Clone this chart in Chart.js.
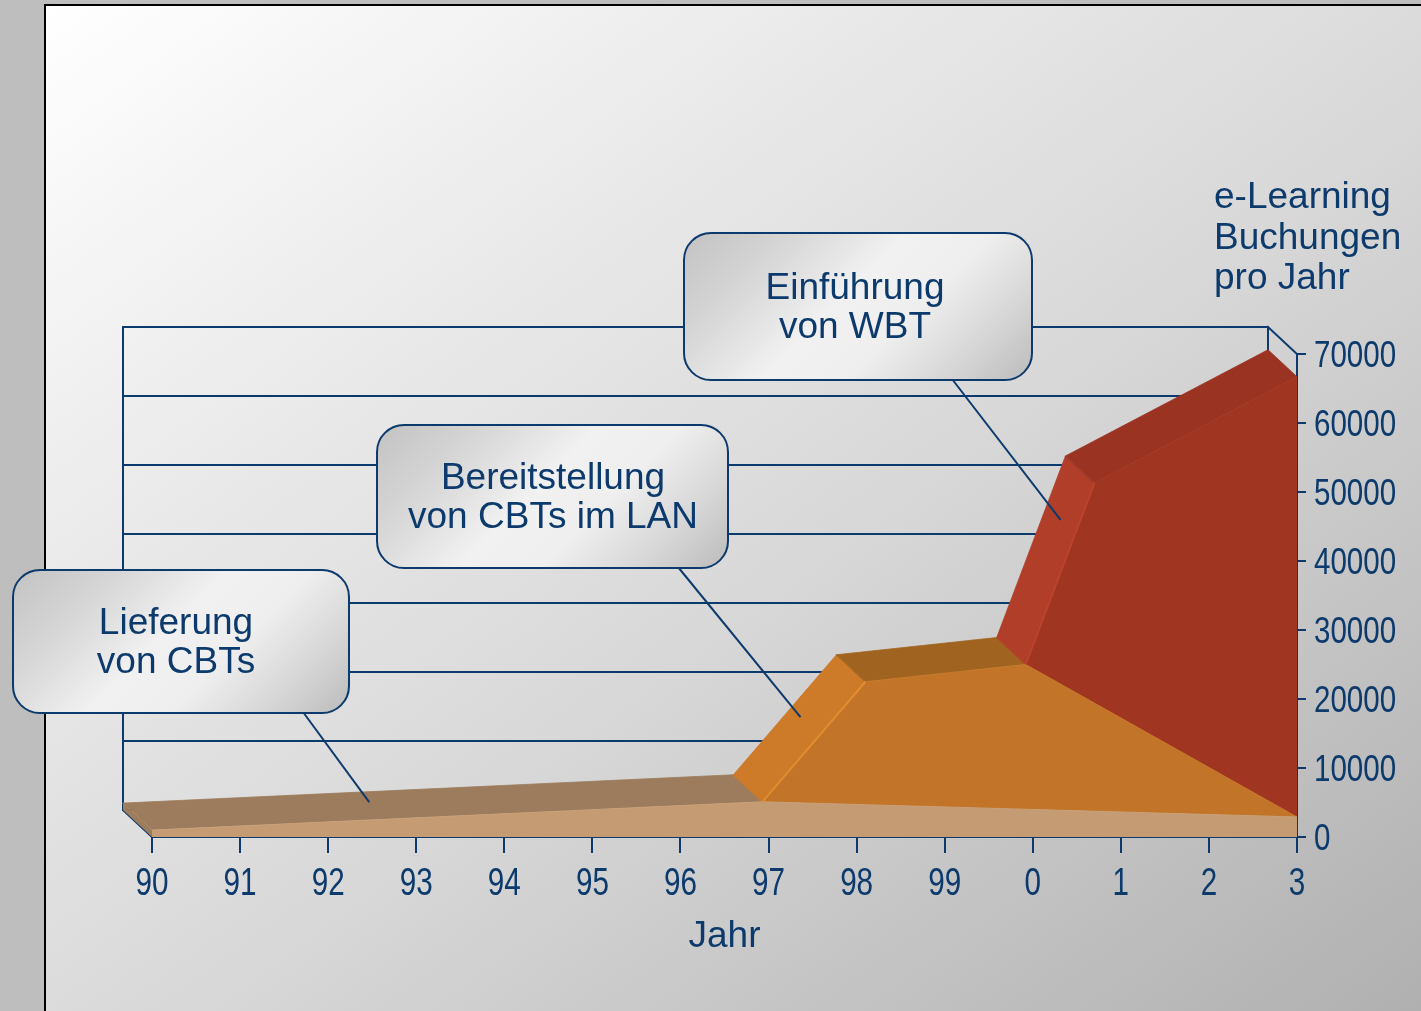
<!DOCTYPE html>
<html><head><meta charset="utf-8">
<script src="https://cdn.jsdelivr.net/npm/chart.js@4/dist/chart.umd.min.js"></script>
<style>
html,body{margin:0;padding:0;width:1421px;height:1011px;overflow:hidden;background:#bebebe;}
#panel{position:absolute;left:44px;top:4px;width:1377px;height:1007px;box-sizing:border-box;border-left:2px solid #000;border-top:2px solid #000;
 background:linear-gradient(to bottom right,#ffffff 0%,#e9e9e9 30%,#d8d8d8 55%,#b0b0b0 100%);}
#c{position:absolute;left:0;top:0;}
</style></head><body>
<div id="panel"></div>
<canvas id="c" width="1421" height="1011"></canvas>
<script>
// ---- data ----
const years = ['90','91','92','93','94','95','96','97','98','99','0','1','2','3'];
const yTicks = [0,10000,20000,30000,40000,50000,60000,70000];
// top edges of the three stacked areas (x = position on the year axis, 0 = '90')
const cbtPos = [0, 6.93, 13];
const cbtTop = [1000, 5100, 2900];
const lanPos = [6.93, 8.1, 9.92, 13];
const lanTop = [5100, 22500, 25000, 2900];
const wbtPos = [9.92, 10.7, 13];
const wbtTop = [25000, 51300, 66700];
const yTitle = ['e-Learning','Buchungen','pro Jahr'];
const xTitle = 'Jahr';
const calloutTexts = [['Lieferung','von CBTs'],['Bereitstellung','von CBTs im LAN'],['Einführung','von WBT']];
// anchor of each leader line in data space (x position, value, depth fraction)
const calloutAnchors = [[2.67,2640,0.62],[7.58,14800,0.66],[10.48,44000,0.5]];

// ---- styles / layout ----
const NAVY = '#0d3a6c';
const SANS = "'Liberation Sans', Arial, sans-serif";
const DEPTH = {dx:-29, dy:-27};
const styles = [
  {front:'#c49b73', top:'#9c7c5d', side:'#9c7c5d', edge:'#c9a079', hi:null},
  {front:'#c27528', top:'#a16420', side:'#cd7a29', edge:'#c77a2c', hi:'#e28c30'},
  {front:'#a03522', top:'#9a3322', side:'#b13e28', edge:'#a53a25', hi:'#b9442b'}
];
const boxes = [ // x, y, w, h, text centre x, leader start x
  {x:13,y:570,w:336,h:143,tx:176,lx:303},
  {x:377,y:425,w:351,h:143,tx:553,lx:678},
  {x:684,y:233,w:348,h:147,tx:855,lx:952}
];

const seriesPos = [cbtPos, lanPos, wbtPos];
const seriesTop = [cbtTop, lanTop, wbtTop];

function pts(pos, vals){ return pos.map((p,i)=>({x:p, y:vals[i]})); }

const threeD = {
  id:'threeD',
  beforeDatasetsDraw(chart){
    const {ctx, chartArea:a, scales:{x, y}} = chart;
    const dx = DEPTH.dx, dy = DEPTH.dy;
    ctx.save();
    ctx.strokeStyle = NAVY; ctx.lineWidth = 2; ctx.lineCap = 'square';
    ctx.beginPath();
    yTicks.forEach(v=>{ const py = y.getPixelForValue(v)+dy; ctx.moveTo(a.left+dx, py); ctx.lineTo(a.right+dx, py); });
    ctx.moveTo(a.left+dx, a.top+dy); ctx.lineTo(a.left+dx, a.bottom+dy); ctx.lineTo(a.left, a.bottom);
    ctx.moveTo(a.right+dx, a.top+dy); ctx.lineTo(a.right+dx, a.bottom+dy);
    ctx.moveTo(a.right+dx, a.top+dy); ctx.lineTo(a.right, a.top);
    ctx.stroke();
    // depth strips of the areas
    seriesPos.forEach((pos, s)=>{
      const vals = seriesTop[s];
      for(let i=0;i<pos.length-1;i++){
        const x1=x.getPixelForValue(pos[i]), y1=y.getPixelForValue(vals[i]);
        const x2=x.getPixelForValue(pos[i+1]), y2=y.getPixelForValue(vals[i+1]);
        const slope = (y1-y2)/(x2-x1);
        ctx.fillStyle = slope>0.9 ? styles[s].side : styles[s].top;
        ctx.beginPath();
        ctx.moveTo(x1,y1); ctx.lineTo(x2,y2); ctx.lineTo(x2+dx,y2+dy); ctx.lineTo(x1+dx,y1+dy); ctx.closePath();
        ctx.fill();
        ctx.strokeStyle = ctx.fillStyle; ctx.lineWidth = 0.8; ctx.stroke();
      }
      if(s===0){
        const x0=x.getPixelForValue(pos[0]), y0=y.getPixelForValue(vals[0]), yb=y.getPixelForValue(0);
        ctx.fillStyle = styles[0].top;
        ctx.beginPath(); ctx.moveTo(x0,yb); ctx.lineTo(x0,y0); ctx.lineTo(x0+dx,y0+dy); ctx.lineTo(x0+dx,yb+dy); ctx.closePath(); ctx.fill();
      }
    });
    ctx.restore();
  },
  afterDatasetsDraw(chart){
    const {ctx, scales:{x, y}} = chart;
    ctx.save();
    // highlight along the front edge of rising faces
    seriesPos.forEach((pos, s)=>{
      const vals = seriesTop[s];
      if(!styles[s].hi) return;
      for(let i=0;i<pos.length-1;i++){
        const x1=x.getPixelForValue(pos[i]), y1=y.getPixelForValue(vals[i]);
        const x2=x.getPixelForValue(pos[i+1]), y2=y.getPixelForValue(vals[i+1]);
        if((y1-y2)/(x2-x1) > 0.9){
          ctx.strokeStyle = styles[s].hi; ctx.lineWidth = 2;
          ctx.beginPath(); ctx.moveTo(x1,y1); ctx.lineTo(x2,y2); ctx.stroke();
        }
      }
    });
    // leader lines
    ctx.strokeStyle = NAVY; ctx.lineWidth = 2;
    boxes.forEach((b,i)=>{
      const [ax, av, d] = calloutAnchors[i];
      const px = x.getPixelForValue(ax)+DEPTH.dx*d, py = y.getPixelForValue(av)+DEPTH.dy*d;
      ctx.beginPath(); ctx.moveTo(b.lx, b.y+b.h-1); ctx.lineTo(px, py); ctx.stroke();
    });
    // callout boxes
    boxes.forEach((b,i)=>{
      const cx = b.x + b.w/2, cy = b.y + b.h/2, k = (b.w + b.h)/4;
      const g = ctx.createLinearGradient(cx-k, cy-k, cx+k, cy+k);
      g.addColorStop(0,'#c2c2c2'); g.addColorStop(0.22,'#d6d6d6'); g.addColorStop(0.45,'#f1f1f1');
      g.addColorStop(0.62,'#efefef'); g.addColorStop(0.82,'#d6d6d6'); g.addColorStop(1,'#bbbbbb');
      ctx.beginPath(); ctx.roundRect(b.x, b.y, b.w, b.h, 27);
      ctx.fillStyle = g; ctx.fill();
      ctx.lineWidth = 2; ctx.strokeStyle = NAVY; ctx.stroke();
      ctx.fillStyle = NAVY; ctx.font = "37px "+SANS; ctx.textAlign='center'; ctx.textBaseline='alphabetic';
      ctx.fillText(calloutTexts[i][0], b.tx, cy-8);
      ctx.fillText(calloutTexts[i][1], b.tx, cy+31);
    });
    ctx.restore();
  },
  afterDraw(chart){
    const {ctx, chartArea:a, scales:{x, y}} = chart;
    ctx.save();
    ctx.fillStyle = NAVY;
    // value axis title
    ctx.font = "37px "+SANS; ctx.textAlign='left'; ctx.textBaseline='alphabetic';
    yTitle.forEach((t,i)=>ctx.fillText(t, a.right-83, a.top-146+i*40.5));
    ctx.restore();
    // condensed tick labels (positions from the scales)
    ctx.save();
    ctx.fillStyle = NAVY; ctx.textBaseline='alphabetic';
    ctx.font = "38px "+SANS;
    ctx.scale(0.78, 1);
    ctx.textAlign='center';
    x.ticks.forEach((t,i)=>{
      const px = x.getPixelForValue(t.value);
      ctx.fillText(t.label ?? years[i], px/0.78, a.bottom+58);
    });
    ctx.restore();
    ctx.save();
    ctx.fillStyle = NAVY; ctx.textBaseline='alphabetic';
    ctx.font = "36px "+SANS;
    ctx.scale(0.82, 1);
    ctx.textAlign='left';
    y.ticks.forEach(t=>{
      const py = y.getPixelForValue(t.value);
      ctx.fillText(t.label ?? String(t.value), (a.right+17)/0.82, py+13);
    });
    ctx.restore();
  }
};

new Chart(document.getElementById('c'), {
  type:'line',
  data:{
    datasets:[
      {label:'Lieferung von CBTs', data:pts(cbtPos,cbtTop), backgroundColor:styles[0].front, borderColor:styles[0].edge, borderWidth:1, fill:'origin', pointRadius:0, order:1},
      {label:'Bereitstellung von CBTs im LAN', data:pts(lanPos,lanTop), backgroundColor:styles[1].front, borderColor:styles[1].edge, borderWidth:1, fill:'origin', pointRadius:0, order:2},
      {label:'Einführung von WBT', data:pts(wbtPos,wbtTop), backgroundColor:styles[2].front, borderColor:styles[2].edge, borderWidth:1, fill:'origin', pointRadius:0, order:3}
    ]
  },
  options:{
    responsive:false, animation:false,
    layout:{padding:{left:152, top:354, right:0, bottom:0}},
    plugins:{legend:{display:false}, tooltip:{enabled:false}},
    elements:{line:{tension:0}},
    scales:{
      x:{type:'linear', min:0, max:13, position:'bottom',
        afterFit(s){ s.height = 174; },
        afterBuildTicks(s){ s.ticks = years.map((_,i)=>({value:i})); },
        ticks:{display:false, autoSkip:false, maxRotation:0, callback:(v)=>years[v]},
        grid:{drawOnChartArea:false, drawTicks:true, tickLength:16, color:NAVY, lineWidth:2},
        border:{display:true, color:NAVY, width:2},
        title:{display:true, text:xTitle, color:NAVY, font:{family:SANS, size:37}, padding:{top:0, bottom:52}}
      },
      y:{position:'right', min:0, max:70000,
        afterFit(s){ s.width = 124; },
        afterBuildTicks(s){ s.ticks = yTicks.map(v=>({value:v})); },
        ticks:{display:false, callback:(v)=>String(v)},
        grid:{drawOnChartArea:false, drawTicks:true, tickLength:9, color:NAVY, lineWidth:2},
        border:{display:true, color:NAVY, width:2}
      }
    }
  },
  plugins:[threeD]
});
</script>
</body></html>
